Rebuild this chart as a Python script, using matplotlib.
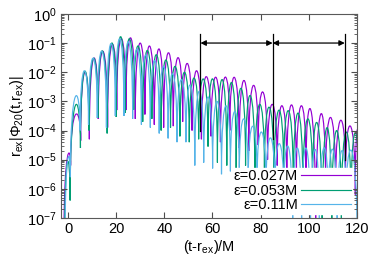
import numpy as np
import matplotlib
matplotlib.use('Agg')
import matplotlib.pyplot as plt
from matplotlib.path import Path
from matplotlib.patches import PathPatch
from matplotlib.lines import Line2D
from matplotlib.ticker import LogLocator, NullFormatter, MultipleLocator

plt.rcParams['font.family'] = ['Liberation Sans', 'DejaVu Sans']
plt.rcParams['mathtext.fontset'] = 'custom'
plt.rcParams['mathtext.rm'] = 'Liberation Sans'
plt.rcParams['mathtext.it'] = 'Liberation Sans:italic'
plt.rcParams['axes.unicode_minus'] = False

labels = ['ε=0.027M', 'ε=0.053M', 'ε=0.11M']
colors = ['#9400d3', '#009e73', '#56b4e9']

# each curve = lobes of |Phi| between its zeros
# zero (trough) times, trough depths (log10) and lobe peak heights (log10)
purple_tz = [-1.8, 1.0, 5.2, 8.8, 12.5, 16.4, 20.2, 24.0, 27.9, 31.9, 35.8, 39.7, 43.7,
             47.6, 51.5, 55.4, 59.4, 63.3, 67.2, 71.1, 75.1, 79.0, 82.9, 86.9, 90.9,
             94.9, 98.9, 102.9, 107.0, 111.2, 115.3, 119.4, 121.5]
purple_dz = [-8, -5.2, -4.35, -4.3, -3.6, -3.9, -3.3, -3.3, -3.6, -3.45, -3.8, -3.9, -3.85,
             -3.7, -4.0, -4.3, -4.2, -4.4, -4.0, -4.6, -4.7, -4.5, -5.0, -5.2, -5.4,
             -5.6, -5.3, -7.5, -5.8, -6.0, -5.5, -6.2, -8]
purple_pk = [-4.95, -3.45, -2.0, -1.52, -1.28, -1.05, -0.85, -0.82, -1.0, -1.1, -1.2, -1.33,
             -1.5, -1.7, -1.95, -2.15, -2.17, -2.17, -2.18, -2.28, -2.45, -2.68, -3.1, -3.15,
             -3.12, -3.15, -3.3, -3.45, -3.55, -3.65, -3.85, -4.0]

green_tz = [-1.5, 0.8, 5.1, 8.65, 12.35, 16.2, 19.95, 23.6, 27.25, 31.0, 34.8, 38.65, 42.55,
            46.45, 50.35, 54.25, 58.15, 62.05, 65.95, 69.85, 73.75, 77.65, 81.6, 85.6, 89.6,
            93.6, 97.6, 101.6, 105.6, 109.6, 113.6, 117.6, 121.5]
green_dz = [-8, -6.4, -4.6, -4.0, -3.57, -4.1, -3.53, -3.4, -3.29, -3.7, -3.6, -4.0, -3.9,
            -4.2, -4.4, -4.3, -4.55, -5.1, -5.2, -5.3, -5.2, -5.6, -5.4, -5.8, -5.5,
            -6.0, -6.2, -5.9, -7.5, -7.2, -7.0, -6.8, -8]
green_pk = [-5.1, -3.15, -1.97, -1.52, -1.27, -1.0, -0.78, -0.85, -1.1, -1.25, -1.4, -1.58,
            -1.8, -2.0, -2.2, -2.23, -2.23, -2.25, -2.35, -2.55, -2.8, -3.1, -3.2, -3.3,
            -3.32, -3.4, -3.6, -3.75, -3.9, -4.0, -4.05, -4.1]

cyan_tz = [-1.3, 0.9, 4.95, 8.45, 12.1, 15.9, 19.6, 23.2, 26.8, 30.45, 34.15, 37.85, 41.55,
           45.25, 48.95, 52.65, 56.35, 60.05, 63.75, 67.45, 71.15, 74.85, 78.55, 82.25, 85.95,
           89.65, 93.35, 97.05, 100.75, 104.45, 108.15, 111.85, 115.55, 120.2]
cyan_dz = [-8, -5.6, -4.0, -3.8, -3.57, -3.9, -3.5, -3.5, -3.6, -3.8, -3.9, -4.1, -4.27,
           -4.4, -4.4, -5.2, -5.1, -5.3, -5.5, -5.4, -5.6, -5.8, -5.7, -6.0, -6.1,
           -6.3, -7.5, -7.2, -7.6, -7.3, -6.6, -7.4, -6.5, -8]
cyan_pk = [-5.0, -2.85, -1.95, -1.52, -1.28, -1.02, -0.85, -0.95, -1.2, -1.4, -1.6, -1.8,
           -2.05, -2.25, -2.45, -2.65, -2.85, -3.0, -3.15, -3.35, -3.6, -3.85, -4.05, -4.25,
           -4.45, -4.55, -4.6, -4.6, -4.65, -4.6, -4.65, -4.7, -4.7]

# interval markers
vline_x = [55, 85, 115]
vline_bottom = [1e-4, 5e-5, 1e-5]
vline_top = 0.2
arrow_y = 0.1


def lobe_path(tz, dz, pk):
    verts = [(tz[0], 10.0 ** dz[0])]
    codes = [Path.MOVETO]
    for i in range(len(pk)):
        h = (8 * pk[i] - dz[i] - dz[i + 1]) / 6.0
        verts += [(tz[i], 10.0 ** h), (tz[i + 1], 10.0 ** h), (tz[i + 1], 10.0 ** dz[i + 1])]
        codes += [Path.CURVE4] * 3
    return Path(verts, codes)


fig = plt.figure(figsize=(3.74, 2.62), dpi=100)
ax = fig.add_axes([0.163, 0.168, 0.791, 0.779])
ax.set_yscale('log')

series = [(purple_tz, purple_dz, purple_pk), (green_tz, green_dz, green_pk),
          (cyan_tz, cyan_dz, cyan_pk)]
for (tz, dz, pk), c in zip(series, colors):
    ax.add_patch(PathPatch(lobe_path(tz, dz, pk), fill=False, edgecolor=c, lw=0.85))

for x, yb in zip(vline_x, vline_bottom):
    ax.plot([x, x], [vline_top, yb], color='k', lw=0.9, zorder=3)
for x0, x1 in zip(vline_x[:-1], vline_x[1:]):
    ax.annotate('', xy=(x1, arrow_y), xytext=(x0, arrow_y),
                arrowprops=dict(arrowstyle='<|-|>', color='k', lw=0.9,
                                mutation_scale=8, shrinkA=0, shrinkB=0))

ax.set_xlim(-3, 120)
ax.set_ylim(1e-7, 1)
ax.xaxis.set_major_locator(MultipleLocator(20))
ax.yaxis.set_major_locator(LogLocator(base=10, numticks=10))
ax.yaxis.set_minor_locator(LogLocator(base=10, subs=np.arange(2, 10), numticks=20))
ax.yaxis.set_minor_formatter(NullFormatter())
ax.tick_params(which='both', direction='in', top=True, right=True, color='0.3',
               labelsize=10.5, pad=3)
ax.tick_params(which='major', length=4)
ax.tick_params(which='minor', length=2)
for s in ax.spines.values():
    s.set_color('0.35')
    s.set_linewidth(0.8)

ax.set_xlabel('(t-r$_{\\mathrm{ex}}$)/M', fontsize=10.5, labelpad=1)
ax.set_ylabel('r$_{\\mathrm{ex}}$|Φ$_{20}$(t,r$_{\\mathrm{ex}}$)|', fontsize=10.5, labelpad=1)

handles = [Line2D([], [], color=c, lw=0.85) for c in colors]
leg = ax.legend(handles, labels, loc='lower right', bbox_to_anchor=(0.984, 0.02),
                markerfirst=False, fontsize=10.5, frameon=True, fancybox=False,
                framealpha=1, facecolor='white', edgecolor='white', borderpad=0.1,
                borderaxespad=0, handlelength=3.4, handletextpad=0.2, labelspacing=0.05)
leg.set_zorder(5)

fig.savefig('out.png', dpi=100)
